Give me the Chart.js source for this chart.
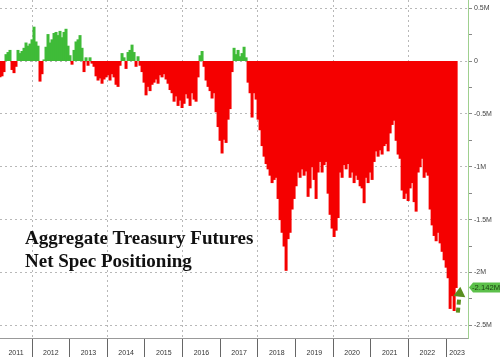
<!DOCTYPE html>
<html><head><meta charset="utf-8">
<script src="https://cdn.jsdelivr.net/npm/chart.js@4"></script>
<style>
html,body{margin:0;padding:0;background:#fff;}
#wrap{position:relative;width:500px;height:357px;overflow:hidden;}
#title{position:absolute;left:25px;top:226px;font:bold 19px/23px 'Liberation Serif','Times New Roman',serif;color:#111;pointer-events:none;white-space:nowrap;}
</style></head><body>
<div id="wrap"><canvas id="c" width="500" height="357"></canvas>
<div id="title">Aggregate Treasury Futures<br>Net Spec Positioning</div></div>
<script>
// Net speculative positioning, millions of contracts, roughly every 2.8 weeks
const startYear = 2011.15;
const stepYears = 0.053135;
const netSpecM = [
 -0.15,-0.14,-0.10,0.06,0.08,0.10,-0.08,-0.11,-0.05,0.10,
 0.07,0.09,0.12,0.17,0.14,0.16,0.20,0.32,0.18,0.14,
 -0.19,-0.12,0.01,0.13,0.25,0.17,0.20,0.26,0.27,0.24,
 0.28,0.22,0.27,0.30,0.14,0.05,-0.03,0.10,0.18,0.20,
 0.24,0.12,-0.10,0.03,-0.04,0.03,-0.02,-0.05,-0.14,-0.18,
 -0.16,-0.21,-0.17,-0.15,-0.13,-0.18,-0.12,-0.15,-0.22,-0.24,
 -0.04,0.07,0.03,-0.07,0.08,0.10,0.15,0.08,-0.05,0.04,
 -0.04,-0.10,-0.20,-0.32,-0.24,-0.28,-0.22,-0.20,-0.17,-0.21,
 -0.13,-0.15,-0.12,-0.17,-0.21,-0.27,-0.30,-0.38,-0.33,-0.42,
 -0.37,-0.44,-0.40,-0.31,-0.35,-0.42,-0.30,-0.36,-0.38,-0.15,
 0.05,0.09,-0.05,-0.18,-0.24,-0.28,-0.35,-0.30,-0.48,-0.62,
 -0.75,-0.87,-0.74,-0.77,-0.55,-0.45,-0.10,0.12,0.06,0.10,
 0.04,0.07,0.13,0.03,-0.20,-0.30,-0.53,-0.30,-0.36,-0.55,
 -0.65,-0.80,-0.90,-0.97,-1.02,-1.08,-1.15,-1.12,-1.10,-1.30,
 -1.50,-1.62,-1.75,-1.98,-1.68,-1.62,-1.40,-1.30,-1.18,-1.05,
 -1.10,-1.02,-1.08,-1.04,-1.28,-1.20,-1.00,-1.12,-1.30,-1.05,
 -0.95,-1.05,-0.98,-0.95,-1.25,-1.45,-1.58,-1.66,-1.60,-1.48,
 -1.05,-1.10,-0.98,-1.02,-0.97,-1.10,-1.05,-1.15,-1.08,-1.12,
 -1.18,-1.20,-1.34,-1.10,-1.15,-1.05,-1.12,-0.95,-0.85,-0.90,
 -0.84,-0.88,-0.80,-0.78,-0.85,-0.68,-0.60,-0.56,-0.75,-0.88,
 -0.92,-1.22,-1.30,-1.25,-1.32,-1.20,-1.15,-1.33,-1.42,-1.05,
 -1.00,-0.92,-1.10,-1.05,-1.08,-1.40,-1.55,-1.65,-1.70,-1.62,
 -1.72,-1.80,-1.88,-1.95,-2.05,-2.34,-2.22,-2.36,-2.142
];
const yearLabels = ['2011','2012','2013','2014','2015','2016','2017','2018','2019','2020','2021','2022','2023'];
const xMin = 2011.15, xMax = 2023.58;
const yMin = -2.62, yMax = 0.577;
const arrowFrom = [2023.31, -2.38];
const arrowTo = [2023.375, -2.135];

const GREEN = '#3fbb38', RED = '#f50000';
const AXIS_FONT = {family:"'Liberation Sans Narrow','Liberation Sans',Arial,sans-serif", size:7};

const points = netSpecM.map((v, i) => ({x: startYear + i * stepYears, y: v}));

const extras = {
  id: 'extras',
  afterDraw(chart) {
    const {ctx, scales: {x, y}, chartArea} = chart;
    const last = netSpecM[netSpecM.length - 1];
    const py = y.getPixelForValue(last);
    const left = chartArea.right + 1;
    ctx.save();
    ctx.fillStyle = '#5cc04a';
    ctx.beginPath();
    ctx.moveTo(left, py);
    ctx.lineTo(left + 4, py - 5);
    ctx.lineTo(500, py - 5);
    ctx.lineTo(500, py + 5);
    ctx.lineTo(left + 4, py + 5);
    ctx.closePath();
    ctx.fill();
    ctx.fillStyle = '#1b3d12';
    ctx.font = "8px 'Liberation Sans Narrow','Liberation Sans',Arial,sans-serif";
    ctx.textBaseline = 'middle';
    ctx.fillText(last.toFixed(3) + 'M', left + 3, py + 0.5, 28);
    // dashed arrow
    const x0 = x.getPixelForValue(arrowFrom[0]), y0 = y.getPixelForValue(arrowFrom[1]);
    const x1 = x.getPixelForValue(arrowTo[0]), y1 = y.getPixelForValue(arrowTo[1]);
    const ang = Math.atan2(y1 - y0, x1 - x0);
    const headL = 10, headW = 6;
    const bx = x1 - headL * Math.cos(ang), by = y1 - headL * Math.sin(ang);
    ctx.strokeStyle = '#5a8f1f';
    ctx.fillStyle = '#5a8f1f';
    ctx.lineWidth = 4;
    ctx.setLineDash([5, 3]);
    ctx.beginPath(); ctx.moveTo(x0, y0); ctx.lineTo(bx, by); ctx.stroke();
    ctx.setLineDash([]);
    ctx.beginPath();
    ctx.moveTo(x1, y1);
    ctx.lineTo(bx + headW * Math.sin(ang), by - headW * Math.cos(ang));
    ctx.lineTo(bx - headW * Math.sin(ang), by + headW * Math.cos(ang));
    ctx.closePath(); ctx.fill();
    ctx.restore();
  }
};

const isInt = v => Math.abs(v - Math.round(v)) < 1e-9;

new Chart(document.getElementById('c'), {
  type: 'bar',
  data: {
    datasets: [{
      data: points,
      backgroundColor: c => (c.raw && c.raw.y >= 0) ? GREEN : RED,
      borderWidth: 0,
      barPercentage: 1,
      categoryPercentage: 1,
      inflateAmount: 0.5
    }]
  },
  options: {
    responsive: false,
    animation: false,
    devicePixelRatio: 1,
    layout: {padding: 0},
    plugins: {legend: {display: false}, tooltip: {enabled: false}, title: {display: false}},
    scales: {
      x: {
        type: 'linear',
        offset: false,
        min: xMin, max: xMax,
        afterFit: s => { s.height = 19; s.paddingLeft = 0; s.paddingRight = 0; },
        afterBuildTicks: s => {
          const t = [];
          for (let yr = 2012; yr <= 2023; yr++) t.push({value: yr});
          yearLabels.forEach(lbl => {
            const yr = Number(lbl);
            const a = Math.max(yr, s.min), b = Math.min(yr + 1, s.max);
            t.push({value: (a + b) / 2});
          });
          t.sort((p, q) => p.value - q.value);
          s.ticks = t;
        },
        ticks: {
          autoSkip: false, maxRotation: 0, minRotation: 0,
          padding: -8, color: '#333', font: AXIS_FONT,
          callback: v => isInt(v) ? '' : String(Math.floor(v))
        },
        grid: {
          offset: false,
          drawOnChartArea: true,
          tickLength: 19,
          color: c => (c.tick && isInt(c.tick.value) && Math.round(c.tick.value) % 2 === 0) ? '#b8b8b8' : 'rgba(0,0,0,0)',
          tickColor: c => (c.tick && isInt(c.tick.value)) ? '#666' : 'rgba(0,0,0,0)',
          tickBorderDash: [],
          lineWidth: 1
        },
        border: {display: true, color: '#999', dash: [2, 3]}
      },
      y: {
        position: 'right',
        min: yMin, max: yMax,
        afterFit: s => { s.width = 32; s.paddingTop = 0; s.paddingBottom = 0; },
        ticks: {
          stepSize: 0.25, includeBounds: false, padding: 2,
          color: '#444', font: AXIS_FONT,
          callback: v => {
            const k = Math.round(v * 100) / 100;
            if (!isInt(k * 2)) return '';
            return k === 0 ? '0' : k + 'M';
          }
        },
        grid: {
          tickLength: 4,
          color: c => (c.tick && isInt(c.tick.value * 2)) ? '#b8b8b8' : 'rgba(0,0,0,0)',
          tickColor: '#888',
          tickBorderDash: [],
          lineWidth: 1
        },
        border: {display: true, color: '#9fd08f', dash: [2, 3]}
      }
    }
  },
  plugins: [extras]
});
</script>
</body></html>
